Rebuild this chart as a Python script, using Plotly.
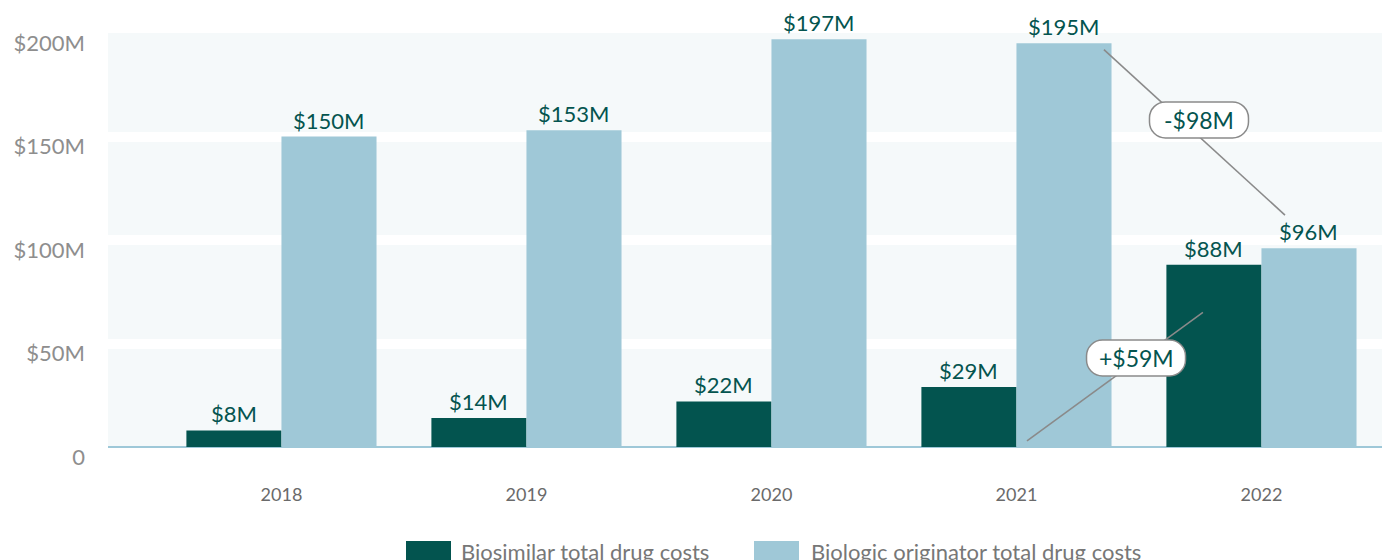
import plotly.graph_objects as go

# Annual drug costs, $ millions
years = ["2018", "2019", "2020", "2021", "2022"]
biosimilar = [8, 14, 22, 29, 88]
originator = [150, 153, 197, 195, 96]
series_names = ["Biosimilar total drug costs", "Biologic originator total drug costs"]
y_ticks = [0, 50, 100, 150, 200]
y_tick_text = ["0", "$50M", "$100M", "$150M", "$200M"]
change_labels = ["-$98M", "+$59M"]

DARK = "#03544f"
LIGHT = "#9fc8d7"
TEXT_TEAL = "#04544f"
GRAY = "#8a8a8a"
FONT = "Lato"

W, H = 1382, 560
M_L, M_R, M_T, M_B = 108, 0, 33, 113
PLOT_W = W - M_L - M_R
PLOT_H = H - M_T - M_B

BARGAP = 0.224
HALF_OFFSET = (1 - BARGAP) / 4  # centre of each bar relative to its category

fig = go.Figure()
for name, vals, color in [(series_names[0], biosimilar, DARK), (series_names[1], originator, LIGHT)]:
    fig.add_trace(go.Bar(
        x=years, y=vals, name=name, marker=dict(color=color, line=dict(width=0)),
        showlegend=False, hoverinfo="x+y",
    ))

shapes = []
annotations = []

# Value labels above each bar
for sign, vals in [(-1, biosimilar), (1, originator)]:
    for i, v in enumerate(vals):
        annotations.append(dict(
            x=i + sign * HALF_OFFSET, y=v, xref="x", yref="y",
            text=f"${v}M", showarrow=False, yanchor="bottom", yshift=1,
            font=dict(color=TEXT_TEAL, size=22, family=FONT),
        ))


def pill_path(hw, hh, r):
    k = 0.5523 * r
    return (
        f"M {-hw + r},{-hh} L {hw - r},{-hh} "
        f"C {hw - r + k},{-hh} {hw},{-hh + r - k} {hw},{-hh + r} "
        f"L {hw},{hh - r} "
        f"C {hw},{hh - r + k} {hw - r + k},{hh} {hw - r},{hh} "
        f"L {-hw + r},{hh} "
        f"C {-hw + r - k},{hh} {-hw},{hh - r + k} {-hw},{hh - r} "
        f"L {-hw},{-hh + r} "
        f"C {-hw},{-hh + r - k} {-hw + r - k},{-hh} {-hw + r},{-hh} Z"
    )


# Connectors showing the change from 2021 to 2022
connectors = [
    # (x0, y0, x1, y1, label x, label y, label)
    (3.357, originator[3] - 3, 4.096, originator[4] + 16, 3.745, 158, change_labels[0]),
    (3.043, 3, 3.761, biosimilar[4] - 23, 3.488, 43, change_labels[1]),
]
for x0, y0, x1, y1, lx, ly, label in connectors:
    shapes.append(dict(type="line", xref="x", yref="y", x0=x0, y0=y0, x1=x1, y1=y1,
                       line=dict(color=GRAY, width=1.6), layer="above"))
    shapes.append(dict(type="path", xref="x", yref="y", xsizemode="pixel", ysizemode="pixel",
                       xanchor=lx, yanchor=ly, path=pill_path(49.5, 18, 16),
                       fillcolor="white", line=dict(color=GRAY, width=1.5), layer="above"))
    annotations.append(dict(x=lx, y=ly, xref="x", yref="y", text=label, showarrow=False,
                            font=dict(color=TEXT_TEAL, size=23, family=FONT)))


# Legend with large swatches along the bottom edge
def px_x(x):
    return (x - M_L) / PLOT_W


def px_y(y):
    return (H - M_B - y) / PLOT_H


legend_items = [(406, 451, 459, DARK, series_names[0]), (754, 799, 809, LIGHT, series_names[1])]
for sx0, sx1, tx, color, name in legend_items:
    shapes.append(dict(type="rect", xref="paper", yref="paper",
                       x0=px_x(sx0), x1=px_x(sx1), y0=px_y(541), y1=px_y(568),
                       fillcolor=color, line=dict(width=0)))
    annotations.append(dict(x=px_x(tx), y=px_y(551), xref="paper", yref="paper",
                            xanchor="left", yanchor="middle", text=name, showarrow=False,
                            font=dict(color="#777777", size=22, family=FONT)))

fig.update_layout(
    width=W, height=H,
    margin=dict(l=M_L, r=M_R, t=M_T, b=M_B, pad=0),
    paper_bgcolor="white",
    plot_bgcolor="#f5f9fa",
    barmode="group",
    bargap=BARGAP,
    bargroupgap=0,
    shapes=shapes,
    annotations=annotations,
    showlegend=False,
    font=dict(family=FONT),
)
fig.update_xaxes(
    type="category", range=[-0.708, 4.492], showgrid=False, showline=False,
    ticks="", tickfont=dict(color="#6a6a6a", size=18, family=FONT),
    ticklabelstandoff=35,
)
fig.update_yaxes(
    range=[0, 200], tickvals=y_ticks, ticktext=y_tick_text,
    showgrid=True, gridcolor="white", gridwidth=10,
    zeroline=True, zerolinecolor="#9ec8d8", zerolinewidth=2,
    showline=False, ticks="",
    tickfont=dict(color="#8e8e8e", size=22, family=FONT),
    ticklabelstandoff=22, ticklabelshift=10,
)

fig.write_html("out.html")
